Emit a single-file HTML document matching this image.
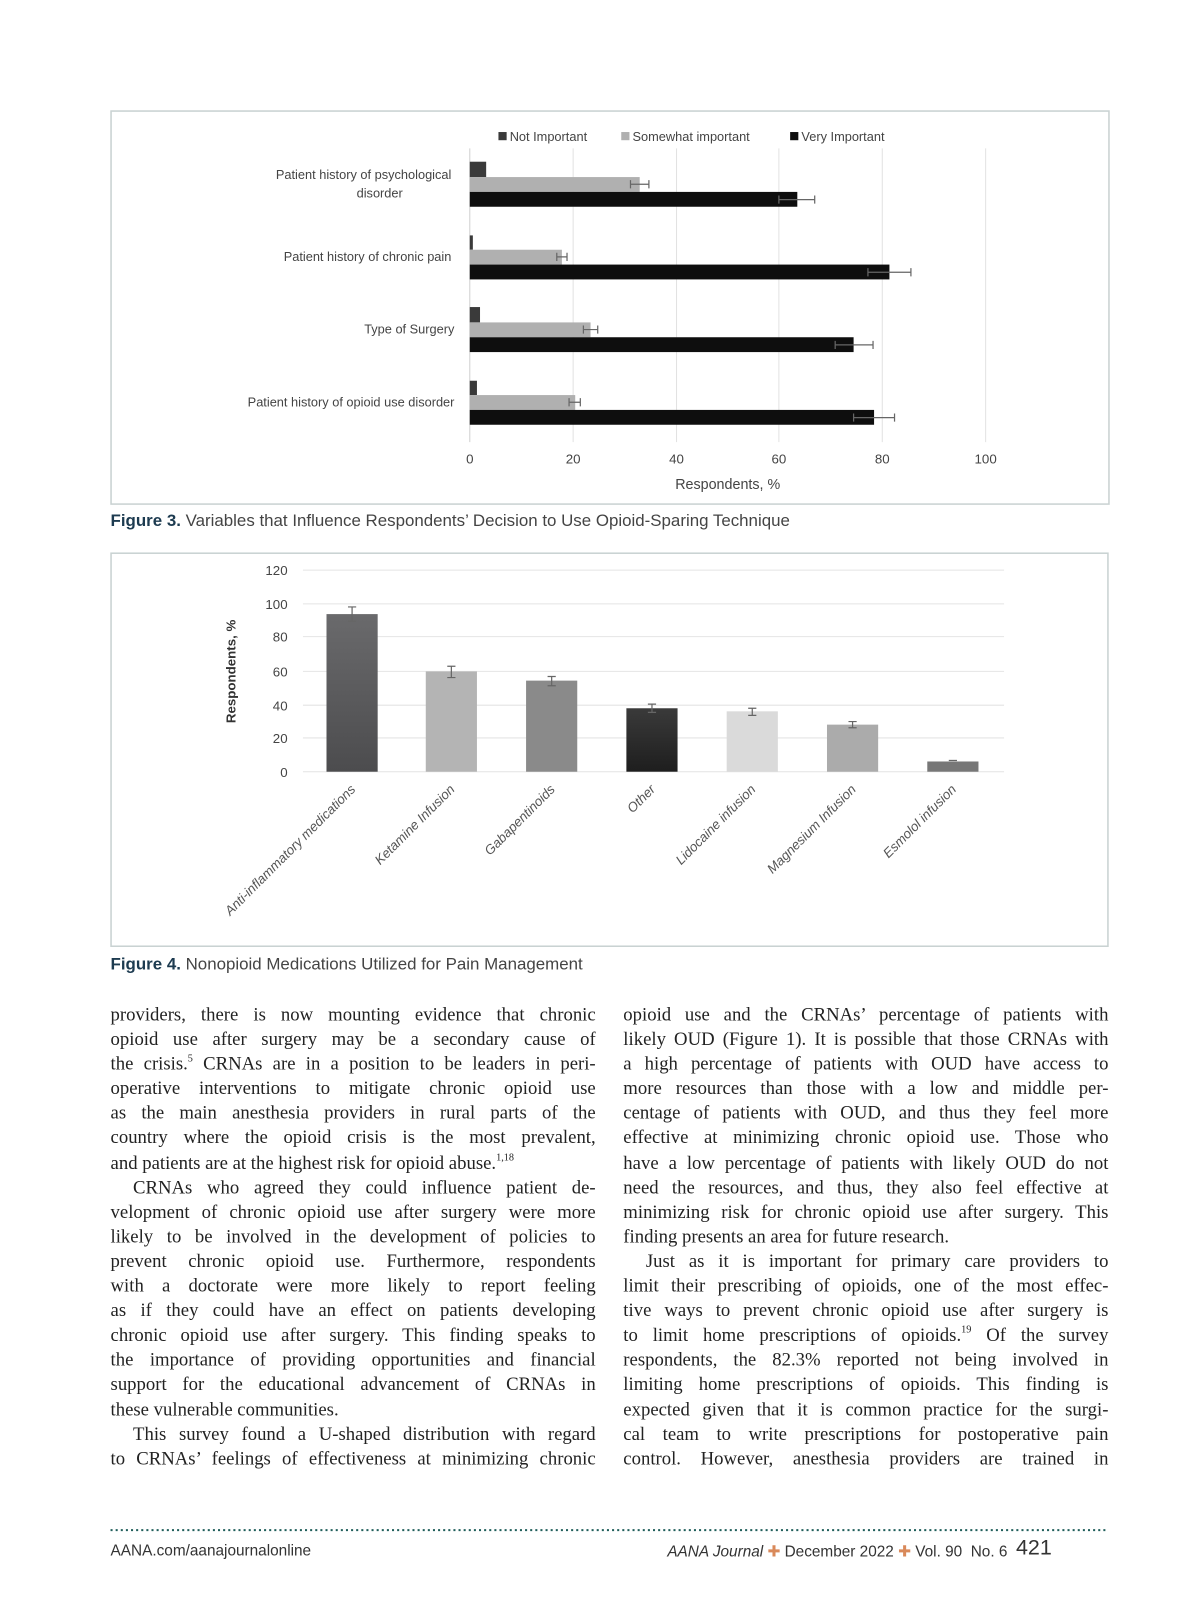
<!DOCTYPE html>
<html><head><meta charset="utf-8"><style>
html,body{margin:0;background:#fff;overflow:hidden;width:1200px;height:1606px;}
#p{position:relative;width:1173px;height:1570px;overflow:hidden;background:#fff;transform:scale(1.0235);transform-origin:0 0;}
.col{position:absolute;top:979px;width:474px;font-family:"Liberation Serif",serif;font-size:18.3px;color:#222;}
.col div{height:24.1px;line-height:24.1px;text-align:justify;text-align-last:justify;white-space:nowrap;overflow:hidden;}
.col div.e{text-align-last:left;}
.col div.i{text-indent:22px;}
sup{font-size:10px;line-height:0;vertical-align:8px;}
.cap{position:absolute;left:108px;font-family:"Liberation Sans",sans-serif;font-size:16.5px;color:#444;}
.cap b{color:#1d3b50;}
.ft{position:absolute;top:1503px;font-family:"Liberation Sans",sans-serif;font-size:15px;color:#333;}
</style></head><body><div id="p">
<svg width="1200" height="960" style="position:absolute;left:0;top:0" font-family="Liberation Sans, sans-serif">
<rect x="108.5" y="108.5" width="975" height="384" fill="none" stroke="#c9d2d2" stroke-width="1.5"/>
<g font-size="12.5" fill="#444">
<rect x="487" y="129" width="8" height="8" fill="#3a3a3a"/><text x="498" y="138">Not Important</text>
<rect x="607" y="129" width="8" height="8" fill="#b0b0b0"/><text x="618" y="138">Somewhat important</text>
<rect x="772" y="129" width="8" height="8" fill="#0e0e0e"/><text x="783" y="138">Very Important</text>
</g>
<g stroke="#e2e2e2" stroke-width="1">
<line x1="560" y1="145" x2="560" y2="432"/><line x1="661" y1="145" x2="661" y2="432"/><line x1="761" y1="145" x2="761" y2="432"/><line x1="862" y1="145" x2="862" y2="432"/><line x1="963" y1="145" x2="963" y2="432"/>
</g>
<line x1="459" y1="145" x2="459" y2="432" stroke="#d0d0d0"/>
<g>
<rect x="459" y="158" width="16" height="15" fill="#3a3a3a"/>
<rect x="459" y="173" width="166" height="14.5" fill="#b0b0b0"/>
<rect x="459" y="187.5" width="320" height="14.5" fill="#0e0e0e"/>
<rect x="459" y="230" width="3" height="14" fill="#3a3a3a"/>
<rect x="459" y="244" width="90" height="14.5" fill="#b0b0b0"/>
<rect x="459" y="258.5" width="410" height="14.5" fill="#0e0e0e"/>
<rect x="459" y="300" width="10" height="15" fill="#3a3a3a"/>
<rect x="459" y="315" width="118" height="14.5" fill="#b0b0b0"/>
<rect x="459" y="329.5" width="375" height="14.5" fill="#0e0e0e"/>
<rect x="459" y="372" width="7" height="14" fill="#3a3a3a"/>
<rect x="459" y="386" width="103" height="14.5" fill="#b0b0b0"/>
<rect x="459" y="400.5" width="395" height="14.5" fill="#0e0e0e"/>
</g>
<g stroke="#666" stroke-width="1.2" fill="none">
<path d="M616 180H634M616 176V184M634 176V184"/>
<path d="M761 195H796M761 191V199M796 191V199"/>
<path d="M544 251H554M544 247V255M554 247V255"/>
<path d="M848 266H890M848 262V270M890 262V270"/>
<path d="M570 322H584M570 318V326M584 318V326"/>
<path d="M816 337H853M816 333V341M853 333V341"/>
<path d="M556 393H567M556 389V397M567 389V397"/>
<path d="M834 408H874M834 404V412M874 404V412"/>
</g>
<g font-size="12.5" fill="#444" text-anchor="end">
<text x="441" y="175">Patient history of psychological</text>
<text x="371" y="193" text-anchor="middle">disorder</text>
<text x="441" y="255">Patient history of chronic pain</text>
<text x="444" y="326">Type of Surgery</text>
<text x="444" y="397">Patient history of opioid use disorder</text>
</g>
<g font-size="13" fill="#444" text-anchor="middle">
<text x="459" y="453">0</text><text x="560" y="453">20</text><text x="661" y="453">40</text><text x="761" y="453">60</text><text x="862" y="453">80</text><text x="963" y="453">100</text>
<text x="711" y="478" font-size="14">Respondents, %</text>
</g>
<rect x="108.5" y="540.5" width="974" height="384" fill="none" stroke="#c9d2d2" stroke-width="1.5"/>
<g stroke="#e4e4e4"><line x1="296" y1="557" x2="981" y2="557"/><line x1="296" y1="590" x2="981" y2="590"/><line x1="296" y1="622" x2="981" y2="622"/><line x1="296" y1="656" x2="981" y2="656"/><line x1="296" y1="689" x2="981" y2="689"/><line x1="296" y1="721" x2="981" y2="721"/><line x1="296" y1="754" x2="981" y2="754"/></g>
<g font-size="13" fill="#444" text-anchor="end">
<text x="281" y="562">120</text><text x="281" y="595">100</text><text x="281" y="627">80</text><text x="281" y="661">60</text><text x="281" y="694">40</text><text x="281" y="726">20</text><text x="281" y="759">0</text>
</g>
<text transform="translate(230,656) rotate(-90)" font-size="13" font-weight="bold" fill="#333" text-anchor="middle">Respondents, %</text>
<defs>
<linearGradient id="g1" x1="0" y1="0" x2="0" y2="1"><stop offset="0" stop-color="#6a6a6c"/><stop offset="1" stop-color="#4c4c4e"/></linearGradient>
<linearGradient id="g4" x1="0" y1="0" x2="0" y2="1"><stop offset="0" stop-color="#3a3a3a"/><stop offset="1" stop-color="#1e1e1e"/></linearGradient>
</defs>
<rect x="319" y="600" width="50" height="154" fill="url(#g1)"/>
<rect x="416" y="656" width="50" height="98" fill="#b4b4b4"/>
<rect x="514" y="665" width="50" height="89" fill="#8a8a8a"/>
<rect x="612" y="692" width="50" height="62" fill="url(#g4)"/>
<rect x="710" y="695" width="50" height="59" fill="#dadada"/>
<rect x="808" y="708" width="50" height="46" fill="#ababab"/>
<rect x="906" y="744" width="50" height="10" fill="#777"/>
<g stroke="#666" stroke-width="1.2" fill="none">
<path d="M340 593H348M344 593V607M340 607H348"/>
<path d="M437 651H445M441 651V662M437 662H445"/>
<path d="M535 661H543M539 661V670M535 670H543"/>
<path d="M633 688H641M637 688V696M633 696H641"/>
<path d="M731 692H739M735 692V699M731 699H739"/>
<path d="M829 705H837M833 705V711M829 711H837"/>
<path d="M927 743H935"/>
</g>
<g font-size="13" fill="#555" font-style="italic" text-anchor="end">
<text transform="translate(348,772) rotate(-45)">Anti-inflammatory medications</text>
<text transform="translate(445,772) rotate(-45)">Ketamine Infusion</text>
<text transform="translate(543,772) rotate(-45)">Gabapentinoids</text>
<text transform="translate(641,772) rotate(-45)">Other</text>
<text transform="translate(739,772) rotate(-45)">Lidocaine infusion</text>
<text transform="translate(837,772) rotate(-45)">Magnesium Infusion</text>
<text transform="translate(935,772) rotate(-45)">Esmolol infusion</text>
</g>
</svg>
<div class="cap" style="top:500px"><b>Figure 3.</b> Variables that Influence Respondents’ Decision to Use Opioid-Sparing Technique</div>
<div class="cap" style="top:933px"><b>Figure 4.</b> Nonopioid Medications Utilized for Pain Management</div>
<svg width="1200" height="20" style="position:absolute;left:0;top:1485px"><line x1="108" y1="10" x2="1083" y2="10" stroke="#1f5e5a" stroke-width="2" stroke-dasharray="2 3"/></svg>
<div class="col" style="left:108px">
<div>providers, there is now mounting evidence that chronic</div>
<div>opioid use after surgery may be a secondary cause of</div>
<div>the crisis.<sup>5</sup> CRNAs are in a position to be leaders in peri-</div>
<div>operative interventions to mitigate chronic opioid use</div>
<div>as the main anesthesia providers in rural parts of the</div>
<div>country where the opioid crisis is the most prevalent,</div>
<div class="e">and patients are at the highest risk for opioid abuse.<sup>1,18</sup></div>
<div class="i">CRNAs who agreed they could influence patient de-</div>
<div>velopment of chronic opioid use after surgery were more</div>
<div>likely to be involved in the development of policies to</div>
<div>prevent chronic opioid use. Furthermore, respondents</div>
<div>with a doctorate were more likely to report feeling</div>
<div>as if they could have an effect on patients developing</div>
<div>chronic opioid use after surgery. This finding speaks to</div>
<div>the importance of providing opportunities and financial</div>
<div>support for the educational advancement of CRNAs in</div>
<div class="e">these vulnerable communities.</div>
<div class="i">This survey found a U-shaped distribution with regard</div>
<div>to CRNAs’ feelings of effectiveness at minimizing chronic</div>
</div>
<div class="col" style="left:609px">
<div>opioid use and the CRNAs’ percentage of patients with</div>
<div>likely OUD (Figure 1). It is possible that those CRNAs with</div>
<div>a high percentage of patients with OUD have access to</div>
<div>more resources than those with a low and middle per-</div>
<div>centage of patients with OUD, and thus they feel more</div>
<div>effective at minimizing chronic opioid use. Those who</div>
<div>have a low percentage of patients with likely OUD do not</div>
<div>need the resources, and thus, they also feel effective at</div>
<div>minimizing risk for chronic opioid use after surgery. This</div>
<div class="e">finding presents an area for future research.</div>
<div class="i">Just as it is important for primary care providers to</div>
<div>limit their prescribing of opioids, one of the most effec-</div>
<div>tive ways to prevent chronic opioid use after surgery is</div>
<div>to limit home prescriptions of opioids.<sup>19</sup> Of the survey</div>
<div>respondents, the 82.3% reported not being involved in</div>
<div>limiting home prescriptions of opioids. This finding is</div>
<div>expected given that it is common practice for the surgi-</div>
<div>cal team to write prescriptions for postoperative pain</div>
<div>control. However, anesthesia providers are trained in</div>
</div>
<div class="ft" style="left:108px;top:1507px">AANA.com/aanajournalonline</div>
<div class="ft" style="left:652px"><i>AANA Journal</i> <span style="color:#d9895a">✚</span> December 2022 <span style="color:#d9895a">✚</span> Vol. 90&nbsp; No. 6&nbsp; <span style="font-size:21px;position:relative;top:-2px">421</span></div>
</div></body></html>
